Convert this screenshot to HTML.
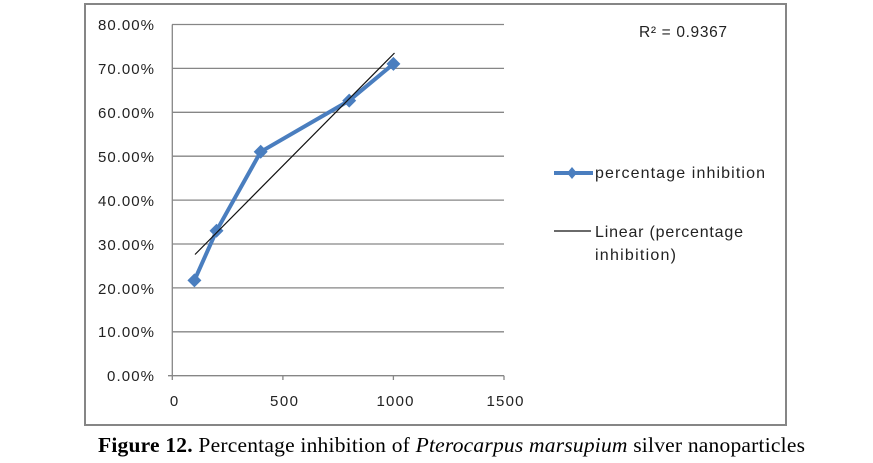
<!DOCTYPE html>
<html><head><style>
body{margin:0;background:#fff;width:873px;height:463px;overflow:hidden}
svg{display:block}
</style></head><body>
<svg width="873" height="463" xmlns="http://www.w3.org/2000/svg">
<rect x="85" y="4" width="701" height="421" fill="#fff" stroke="#868686" stroke-width="2"/>
<g stroke="#868686" stroke-width="1.3">
<line x1="172" y1="24.5" x2="504" y2="24.5"/>
<line x1="172" y1="68.4" x2="504" y2="68.4"/>
<line x1="172" y1="112.3" x2="504" y2="112.3"/>
<line x1="172" y1="156.2" x2="504" y2="156.2"/>
<line x1="172" y1="200.1" x2="504" y2="200.1"/>
<line x1="172" y1="244" x2="504" y2="244"/>
<line x1="172" y1="287.9" x2="504" y2="287.9"/>
<line x1="172" y1="331.8" x2="504" y2="331.8"/>
<line x1="168" y1="375.7" x2="504" y2="375.7"/>
<line x1="172.3" y1="24.5" x2="172.3" y2="380"/>
<line x1="282.9" y1="375.7" x2="282.9" y2="380"/>
<line x1="393.4" y1="375.7" x2="393.4" y2="380"/>
<line x1="504" y1="375.7" x2="504" y2="380"/>
</g>
<g font-family="Liberation Sans, sans-serif" font-size="15" fill="#222" text-anchor="end">
<text x="154" y="30" textLength="56">80.00%</text>
<text x="154" y="74" textLength="56">70.00%</text>
<text x="154" y="118" textLength="56">60.00%</text>
<text x="154" y="162" textLength="56">50.00%</text>
<text x="154" y="206" textLength="56">40.00%</text>
<text x="154" y="250" textLength="56">30.00%</text>
<text x="154" y="294" textLength="56">20.00%</text>
<text x="154" y="337" textLength="56">10.00%</text>
<text x="154" y="381" textLength="47">0.00%</text>
</g>
<g font-family="Liberation Sans, sans-serif" font-size="15" fill="#222" text-anchor="middle">
<text x="174" y="406">0</text>
<text x="284" y="406" textLength="28">500</text>
<text x="395" y="406" textLength="37">1000</text>
<text x="505" y="406" textLength="37">1500</text>
</g>
<polyline points="194.4,280.4 216.5,230.8 260.7,151.8 349.2,100.6 393.4,63.9" fill="none" stroke="#4a7ebf" stroke-width="4" stroke-linejoin="round"/>
<g fill="#4a7ebf">
<path d="M194.4,273.4 l7,7 l-7,7 l-7,-7z"/>
<path d="M216.5,223.8 l7,7 l-7,7 l-7,-7z"/>
<path d="M260.7,144.8 l7,7 l-7,7 l-7,-7z"/>
<path d="M349.2,93.6 l7,7 l-7,7 l-7,-7z"/>
<path d="M393.4,56.9 l7,7 l-7,7 l-7,-7z"/>
</g>
<line x1="195" y1="254.5" x2="394.5" y2="53" stroke="#111" stroke-width="1.2"/>
<text x="639" y="37" font-family="Liberation Sans, sans-serif" font-size="15.5" fill="#222" textLength="88">R² = 0.9367</text>
<line x1="554" y1="173" x2="593" y2="173" stroke="#4a7ebf" stroke-width="4"/>
<path d="M572,167 l5,6 l-5,6 l-5,-6z" fill="#4a7ebf"/>
<line x1="554" y1="231" x2="591" y2="231" stroke="#111" stroke-width="1.2"/>
<g font-family="Liberation Sans, sans-serif" font-size="16" fill="#222">
<text x="595" y="178" textLength="170">percentage inhibition</text>
<text x="595" y="237" textLength="148">Linear (percentage</text>
<text x="595" y="260" textLength="81">inhibition)</text>
</g>
<text x="98" y="452" font-family="Liberation Serif, serif" font-size="21.5" fill="#000" textLength="707"><tspan font-weight="bold">Figure 12.</tspan> Percentage inhibition of <tspan font-style="italic">Pterocarpus marsupium</tspan> silver nanoparticles</text>
</svg>
</body></html>
